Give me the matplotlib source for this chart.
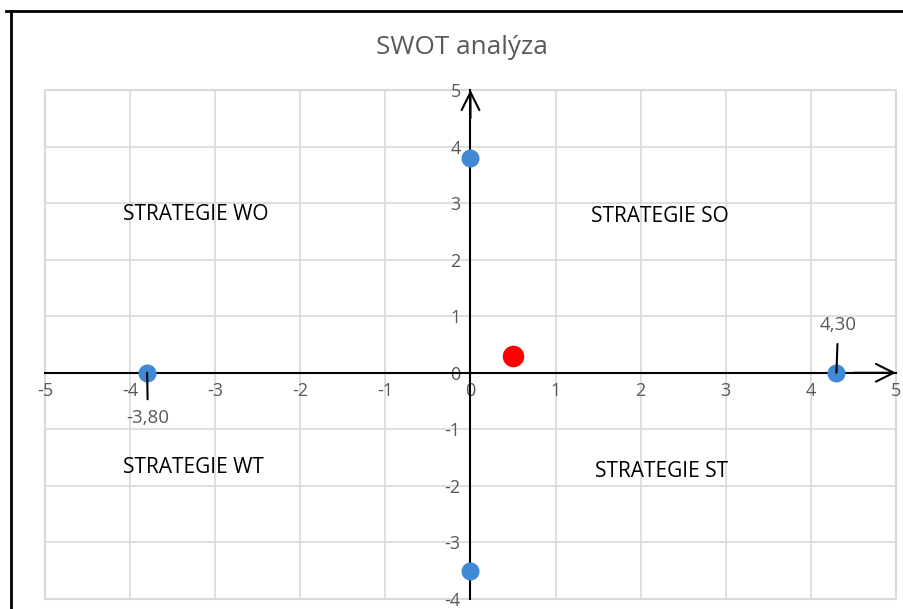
import matplotlib
matplotlib.use("Agg")
import matplotlib.pyplot as plt
from matplotlib.lines import Line2D

plt.rcParams['font.family'] = ['Open Sans', 'DejaVu Sans']

# data
x_vals = [0, -3.8, 4.3, 0]
y_vals = [3.8, 0, 0, -3.5]
result_x = [0.5]
result_y = [0.3]
x_ticks = [-5, -4, -3, -2, -1, 0, 1, 2, 3, 4, 5]
y_ticks = [-4, -3, -2, -1, 0, 1, 2, 3, 4, 5]
quadrants = ['STRATEGIE WO', 'STRATEGIE SO', 'STRATEGIE WT', 'STRATEGIE ST']
quad_pos = [(-3.23, 2.8), (2.22, 2.77), (-3.26, -1.68), (2.25, -1.75)]

gray = '#595959'
grid_c = '#d9d9d9'

fig = plt.figure(figsize=(9.04, 6.09), dpi=100)
ax = fig.add_axes([45/904, 10/609, 851/904, 509/609])

ax.set_xlim(-5, 5)
ax.set_ylim(-4, 5)
ax.set_xticks(x_ticks)
ax.set_yticks(y_ticks)
ax.set_xticklabels([str(t) for t in x_ticks])
ax.set_yticklabels([str(t) for t in y_ticks])
ax.grid(True, color=grid_c, lw=1.2)
ax.set_axisbelow(True)

for s in ['top', 'right']:
    ax.spines[s].set_visible(False)
ax.spines['left'].set_position(('data', 0))
ax.spines['bottom'].set_position(('data', 0))
ax.spines['left'].set_color('black')
ax.spines['bottom'].set_color('black')
ax.spines['left'].set_linewidth(1.5)
ax.spines['bottom'].set_linewidth(1.5)
ax.tick_params(length=0, labelsize=13, labelcolor=gray)
ax.tick_params(axis='x', pad=7)
ax.tick_params(axis='y', pad=7)

# outer gray frame of plot area
ax.plot([-5, 5, 5, -5, -5], [-4, -4, 5, 5, -4], color=grid_c, lw=1.5, clip_on=False, zorder=0)

# arrowheads
ax.annotate('', xy=(5, 0), xytext=(4.5, 0),
            arrowprops=dict(arrowstyle='->', color='black', lw=1.5, mutation_scale=32, shrinkA=0, shrinkB=0),
            annotation_clip=False)
ax.annotate('', xy=(0, 5), xytext=(0, 4.5),
            arrowprops=dict(arrowstyle='->', color='black', lw=1.5, mutation_scale=32, shrinkA=0, shrinkB=0),
            annotation_clip=False)

ax.plot(x_vals, y_vals, 'o', color='#4189d4', ms=12, zorder=5, clip_on=False)
ax.plot(result_x, result_y, 'o', color='#ff0000', ms=14.5, zorder=5)

# data labels with leader lines
a1 = ax.annotate('4,30', xy=(4.3, 0), xytext=(4.32, 0.84), ha='center', va='center',
                 fontsize=13.5, color=gray,
                 arrowprops=dict(arrowstyle='-', color='black', lw=1.5, shrinkA=5, shrinkB=0))
a2 = ax.annotate('-3,80', xy=(-3.8, 0), xytext=(-3.79, -0.8), ha='center', va='center',
                 fontsize=13.5, color=gray,
                 arrowprops=dict(arrowstyle='-', color='black', lw=1.5, shrinkA=5, shrinkB=0))
a1.set_zorder(6)
a2.set_zorder(6)

for label, (qx, qy) in zip(quadrants, quad_pos):
    ax.text(qx, qy, label, ha='center', va='center', fontsize=15, color='black')

fig.text(462/904, 1 - 47/609, 'SWOT analýza', ha='center', va='center', fontsize=18.8, color=gray)

# black frame at top and left
fig.add_artist(Line2D([6/904, 1], [1 - 10.5/609, 1 - 10.5/609], color='black', lw=2, transform=fig.transFigure))
fig.add_artist(Line2D([10.5/904, 10.5/904], [0, 1 - 10.5/609], color='black', lw=2, transform=fig.transFigure))

fig.savefig('out.png', dpi=100)
